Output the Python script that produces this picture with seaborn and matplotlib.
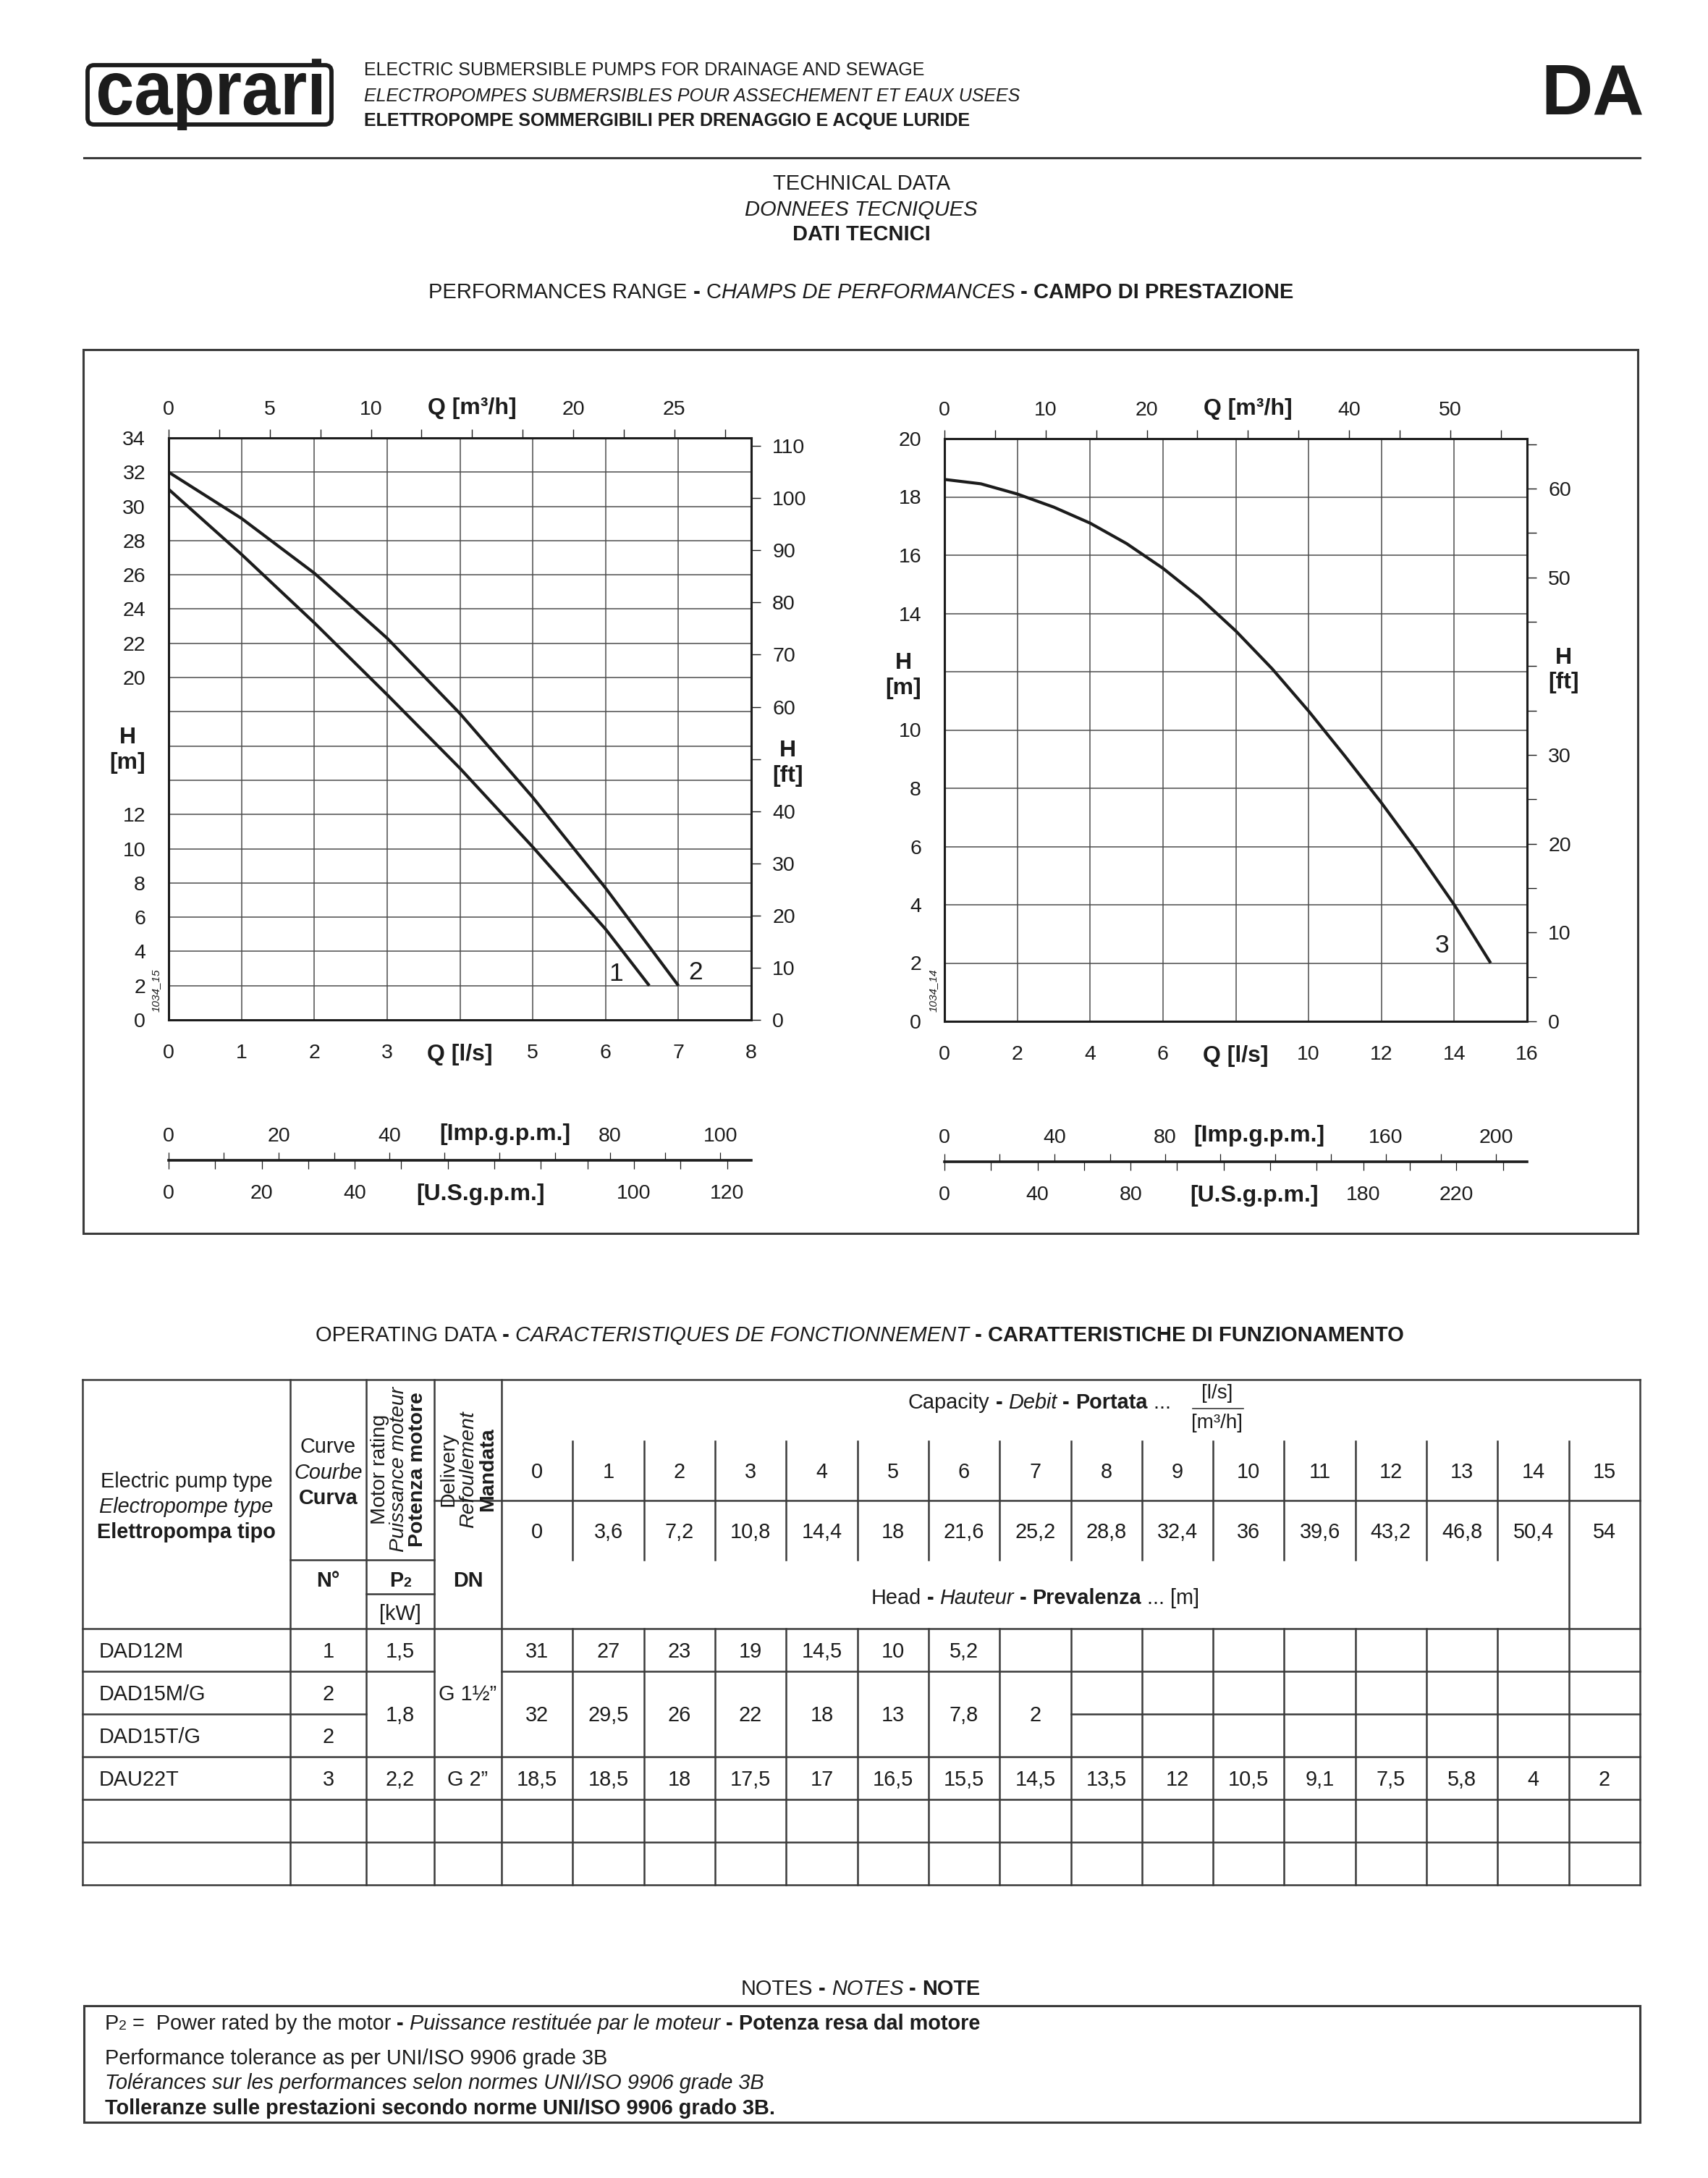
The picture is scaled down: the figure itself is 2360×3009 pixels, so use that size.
import numpy as np
import pandas as pd
import seaborn as sns
import matplotlib.pyplot as plt
from matplotlib.patches import Rectangle, FancyBboxPatch, PathPatch
from matplotlib.textpath import TextPath
from matplotlib.font_manager import FontProperties
from matplotlib.transforms import blended_transform_factory, Affine2D

# ---- curves (Q in l/s, H in m) ----
q_curve1 = [0, 1, 2, 3, 4, 5, 6, 6.6]
h_curve1 = [31, 27.2, 23.2, 19.0, 14.7, 10.1, 5.3, 2]
q_curve2 = [0, 1, 2, 3, 4, 5, 6, 7]
h_curve2 = [32, 29.3, 26.1, 22.3, 17.9, 13.0, 7.7, 2]
q_curve3 = [0, 1, 2, 3, 4, 5, 6, 7, 8, 9, 10, 11, 12, 13, 14, 15]
h_curve3 = [18.6, 18.45, 18.1, 17.65, 17.1, 16.4, 15.55, 14.55, 13.4, 12.1, 10.65, 9.1, 7.5, 5.8, 4.0, 2.0]

# ---- axis ticks / labels ----
left_q_ticks = [0, 1, 2, 3, 4, 5, 6, 7, 8]
left_q_labels = ['0', '1', '2', '3', 'Q [l/s]', '5', '6', '7', '8']
left_h_ticks = list(range(0, 35, 2))
left_h_labels = ['0', '2', '4', '6', '8', '10', '12', '', 'H\n[m]', '', '20', '22', '24', '26', '28', '30', '32', '34']
left_m3h_ticks = [0, 2.5, 5, 7.5, 10, 12.5, 15, 17.5, 20, 22.5, 25, 27.5]
left_m3h_labels = ['0', '', '5', '', '10', '', 'Q [m³/h]', '', '20', '', '25', '']
left_ft_ticks = list(range(0, 111, 10))
left_ft_labels = ['0', '10', '20', '30', '40', 'H\n[ft]', '60', '70', '80', '90', '100', '110']

right_q_ticks = list(range(0, 17, 2))
right_q_labels = ['0', '2', '4', '6', 'Q [l/s]', '10', '12', '14', '16']
right_h_ticks = list(range(0, 21, 2))
right_h_labels = ['0', '2', '4', '6', '8', '10', 'H\n[m]', '14', '16', '18', '20']
right_m3h_ticks = list(range(0, 56, 5))
right_m3h_labels = ['0', '', '10', '', '20', '', 'Q [m³/h]', '', '40', '', '50', '']
right_ft_ticks = list(range(0, 66, 5))
right_ft_labels = ['0', '', '10', '', '20', '', '30', '', 'H\n[ft]', '', '50', '', '60', '']

left_imp_ticks = list(range(0, 101, 10))
left_imp_labels = ['0', '', '20', '', '40', '', '', '', '80', '', '100']
left_us_ticks = list(range(0, 121, 10))
left_us_labels = ['0', '', '20', '', '40', '', '', '', '', '', '100', '', '120']
right_imp_ticks = list(range(0, 201, 20))
right_imp_labels = ['0', '', '40', '', '80', '', '', '', '160', '', '200']
right_us_ticks = list(range(0, 241, 20))
right_us_labels = ['0', '', '40', '', '80', '', '', '', '', '180', '', '220', '']

# ---- operating data table ----
capacity_ls = [str(i) for i in range(16)]
capacity_m3h = ['0', '3,6', '7,2', '10,8', '14,4', '18', '21,6', '25,2', '28,8', '32,4',
                '36', '39,6', '43,2', '46,8', '50,4', '54']
pump_types = ['DAD12M', 'DAD15M/G', 'DAD15T/G', 'DAU22T']
curve_no = ['1', '2', '2', '3']
head_dad12m = ['31', '27', '23', '19', '14,5', '10', '5,2']
head_dad15 = ['32', '29,5', '26', '22', '18', '13', '7,8', '2']
head_dau22t = ['18,5', '18,5', '18', '17,5', '17', '16,5', '15,5', '14,5', '13,5', '12',
               '10,5', '9,1', '7,5', '5,8', '4', '2']

M3H_PER_LS = 3.6
FT_PER_M = 3.2808
IMP_PER_LS = 13.2
US_PER_LS = 15.65

INK = '#1c1c1c'
LINE = '#3a3a3a'
GRID = '#4d4d4d'
PX = 100 / 72

sns.set_theme(style='white')
plt.rcParams['font.family'] = ['Liberation Sans', 'DejaVu Sans']
plt.rcParams['text.color'] = INK

W, H = 2360, 3009
fig = plt.figure(figsize=(W / 100, H / 100), dpi=100)
page = fig.add_axes([0, 0, 1, 1])
page.set_xlim(0, W)
page.set_ylim(H, 0)
page.axis('off')
renderer = fig.canvas.get_renderer()


def baseline(yc, size):
    return yc + 0.358 * size * PX


def text(x, yc, s, size, ha='center', style='normal', weight='normal'):
    return page.text(x, baseline(yc, size), s, fontsize=size, ha=ha, va='baseline',
                     fontstyle=style, fontweight=weight, color=INK)


def width_of(s, **kw):
    t1 = page.text(0, 0, s + '|', **kw)
    t2 = page.text(0, 0, '|', **kw)
    w = t1.get_window_extent(renderer).width - t2.get_window_extent(renderer).width
    t1.remove()
    t2.remove()
    return w


def rich(parts, x, yc, size, ha='center'):
    y = baseline(yc, size)
    specs = []
    for p in parts:
        kw = dict(fontsize=p[3] if len(p) > 3 else size, fontstyle=p[1], fontweight=p[2])
        specs.append((p[0], kw, width_of(p[0], **kw)))
    start = x - sum(s[2] for s in specs) / 2 if ha == 'center' else x
    for s, kw, w in specs:
        page.text(start, y, s, ha='left', va='baseline', color=INK, **kw)
        start += w


def hl(y, x0, x1, lw=1.8):
    page.plot([x0, x1], [y, y], color=LINE, lw=lw, solid_capstyle='projecting')


def vl(x, y0, y1, lw=1.8):
    page.plot([x, x], [y0, y1], color=LINE, lw=lw, solid_capstyle='projecting')


# ---- page header ----
page.add_patch(FancyBboxPatch((121, 90), 337, 82, boxstyle='round,pad=0,rounding_size=9',
                              fill=False, ec=INK, lw=4.2))
logo = TextPath((0, 0), 'caprari', size=100, prop=FontProperties(family='Liberation Sans', weight='bold'))
ext = logo.get_extents()
sx = 308 / ext.width
page.add_patch(PathPatch(logo, transform=Affine2D().translate(-ext.x0, 0).scale(sx, -1.06)
                         .translate(136, 158) + page.transData, fc=INK, ec='none'))
text(503, 95, 'ELECTRIC SUBMERSIBLE PUMPS FOR DRAINAGE AND SEWAGE', 18, ha='left')
text(503, 131, 'ELECTROPOMPES SUBMERSIBLES POUR ASSECHEMENT ET EAUX USEES', 18, ha='left', style='italic')
text(503, 165, 'ELETTROPOMPE SOMMERGIBILI PER DRENAGGIO E ACQUE LURIDE', 18, ha='left', weight='bold')
page.text(2272, 157, 'DA', fontsize=71, fontweight='bold', ha='right', va='baseline', color=INK)
hl(218, 116, 2266, lw=2.2)

text(1190, 252, 'TECHNICAL DATA', 21)
text(1190, 288, 'DONNEES TECNIQUES', 21, style='italic')
text(1190, 322, 'DATI TECNICI', 21, weight='bold')
rich([('PERFORMANCES RANGE', 'normal', 'normal'), (' - ', 'normal', 'bold'),
      ('C', 'normal', 'normal'), ('HAMPS DE PERFORMANCES', 'italic', 'normal'),
      (' - ', 'normal', 'bold'), ('CAMPO DI PRESTAZIONE', 'normal', 'bold')], 1190, 402, 21)

page.add_patch(Rectangle((115, 483), 2148, 1221, fill=False, ec=LINE, lw=2.2))


# ---- performance charts ----
def perf_chart(rect, curves, tags, q_max, h_max, q_ticks, q_labels, h_ticks, h_labels,
               m3h_ticks, m3h_labels, ft_ticks, ft_labels):
    ax = fig.add_axes(rect)
    for q, h in curves:
        df = pd.DataFrame({'Q': q, 'H': h})
        sns.lineplot(data=df, x='Q', y='H', ax=ax, color=INK, linewidth=3.0,
                     estimator=None, sort=False, solid_capstyle='butt')
    for name, qx, hy in tags:
        ax.text(qx, hy, name, fontsize=25.5, ha='center', va='center', color=INK)
    ax.set_xlim(0, q_max)
    ax.set_ylim(0, h_max)
    ax.set_xlabel('')
    ax.set_ylabel('')
    ax.set_xticks(q_ticks, q_labels)
    ax.set_yticks(h_ticks, h_labels)
    ax.grid(True, color=GRID, linewidth=1.1)
    ax.tick_params(axis='both', length=0, labelsize=20.5, colors=INK)
    ax.tick_params(axis='x', pad=24)
    ax.tick_params(axis='y', pad=23)
    for s in ax.spines.values():
        s.set_visible(True)
        s.set_linewidth(2.2)
        s.set_color(INK)
    top = ax.twiny()
    top.set_xlim(0, q_max * M3H_PER_LS)
    top.set_xticks(m3h_ticks, m3h_labels)
    top.tick_params(axis='x', direction='out', length=8.5, width=1.0, pad=10,
                    labelsize=20.5, colors=INK)
    right = ax.twinx()
    right.set_ylim(0, h_max * FT_PER_M)
    right.set_yticks(ft_ticks, ft_labels)
    right.tick_params(axis='y', direction='out', length=9, width=1.0, pad=12,
                      labelsize=20.5, colors=INK)
    for a in (top, right):
        a.grid(False)
        for s in a.spines.values():
            s.set_visible(False)
    for lbl in (ax.get_xticklabels() + ax.get_yticklabels()
                + top.get_xticklabels() + right.get_yticklabels()):
        if lbl.get_text() and lbl.get_text()[0] in 'QH':
            lbl.set_fontweight('bold')
            lbl.set_fontsize(23)
            lbl.set_multialignment('center')
    return ax


perf_chart([233 / W, 1 - 1409 / H, 805 / W, 804 / H],
           [(q_curve1, h_curve1), (q_curve2, h_curve2)],
           [('1', 6.14, 2.7), ('2', 7.24, 2.75)], 8, 34,
           left_q_ticks, left_q_labels, left_h_ticks, left_h_labels,
           left_m3h_ticks, left_m3h_labels, left_ft_ticks, left_ft_labels)
perf_chart([1305 / W, 1 - 1411 / H, 805 / W, 805 / H],
           [(q_curve3, h_curve3)], [('3', 13.67, 2.6)], 16, 20,
           right_q_ticks, right_q_labels, right_h_ticks, right_h_labels,
           right_m3h_ticks, right_m3h_labels, right_ft_ticks, right_ft_labels)

page.text(216, 1368, '1034_15', rotation=90, fontsize=11, fontstyle='italic',
          ha='center', va='center', color=INK)
page.text(1290, 1368, '1034_14', rotation=90, fontsize=11, fontstyle='italic',
          ha='center', va='center', color=INK)


def gpm_scale(x0, width, y, q_max, imp_ticks, imp_labels, us_ticks, us_labels, imp_name_at, us_name_at):
    a = fig.add_axes([x0 / W, 1 - y / H, width / W, 0.5 / H])
    a.set_xlim(0, q_max * IMP_PER_LS)
    a.set_yticks([])
    a.patch.set_visible(False)
    b = a.twiny()
    b.set_xlim(0, q_max * US_PER_LS)
    # imperial gallons above the line, US gallons below
    a.xaxis.tick_top()
    a.set_xticks(imp_ticks, imp_labels)
    a.tick_params(axis='x', direction='out', length=8, width=0.9, pad=6,
                  labelsize=20.5, colors=INK)
    b.xaxis.tick_bottom()
    b.set_xticks(us_ticks, us_labels)
    b.tick_params(axis='x', direction='out', length=8.5, width=0.9, pad=15,
                  labelsize=20.5, colors=INK)
    b.set_yticks([])
    for k in ('left', 'right', 'top'):
        a.spines[k].set_visible(False)
    a.spines['bottom'].set_linewidth(2.6)
    a.spines['bottom'].set_color(INK)
    for s in b.spines.values():
        s.set_visible(False)
    ta = blended_transform_factory(a.transData, page.transData)
    tb = blended_transform_factory(b.transData, page.transData)
    page.text(imp_name_at, y - 36, '[Imp.g.p.m.]', transform=ta, fontsize=23, fontweight='bold',
              ha='center', va='center', color=INK)
    page.text(us_name_at, y + 47, '[U.S.g.p.m.]', transform=tb, fontsize=23, fontweight='bold',
              ha='center', va='center', color=INK)


gpm_scale(233, 805, 1603, 8, left_imp_ticks, left_imp_labels, left_us_ticks, left_us_labels, 61, 67)
gpm_scale(1305, 805, 1605, 16, right_imp_ticks, right_imp_labels, right_us_ticks, right_us_labels, 114, 133)

# ---- operating data table ----
rich([('OPERATING DATA', 'normal', 'normal'), (' - ', 'normal', 'bold'),
      ('CARACTERISTIQUES DE FONCTIONNEMENT', 'italic', 'normal'), (' - ', 'normal', 'bold'),
      ('CARATTERISTICHE DI FUNZIONAMENTO', 'normal', 'bold')], 1188, 1843, 21)

TX0, TX1 = 114, 2266
C_CURVE, C_P2, C_DN, C_CAP = 401, 506, 600, 693
CW = (TX1 - C_CAP) / 16
T_TOP, T_CAP, T_MID, T_HB, T_KW, T_HDR = 1906, 1991, 2073, 2155, 2202, 2250
RH = 59
rows = [T_HDR + i * RH for i in range(7)]
cap_x = [C_CAP + i * CW for i in range(17)]
cap_c = [C_CAP + (i + 0.5) * CW for i in range(16)]
FS = 20.8

hl(T_TOP, TX0, TX1)
hl(T_MID, C_DN, TX1)
hl(T_HB, C_CURVE, C_DN)
hl(T_KW, C_P2, C_DN)
hl(T_HDR, TX0, TX1)
hl(rows[1], TX0, C_DN)
hl(rows[1], C_CAP, TX1)
hl(rows[2], TX0, C_P2)
hl(rows[2], cap_x[8], TX1)
for y in rows[3:]:
    hl(y, TX0, TX1)
for x in (TX0, C_CURVE, C_P2, C_DN, C_CAP, TX1):
    vl(x, T_TOP, rows[-1])
for x in cap_x[1:15]:
    vl(x, T_CAP, T_HB)
    vl(x, T_HDR, rows[-1])
vl(cap_x[15], T_CAP, rows[-1])

text(257.5, 2045, 'Electric pump type', FS)
text(257.5, 2080, 'Electropompe type', FS, style='italic')
text(257.5, 2115, 'Elettropompa tipo', FS, weight='bold')
text(453.5, 1997, 'Curve', FS)
text(453.5, 2033, 'Courbe', FS, style='italic')
text(453.5, 2068, 'Curva', FS, weight='bold')
text(453.5, 2182, 'N°', FS, weight='bold')
for x, s, st, wt in [(525, 'Motor rating', 'normal', 'normal'),
                     (551.5, 'Puissance moteur', 'italic', 'normal'),
                     (577, 'Potenza motore', 'normal', 'bold'),
                     (620, 'Delivery', 'normal', 'normal'),
                     (647, 'Refoulement', 'italic', 'normal'),
                     (674, 'Mandata', 'normal', 'bold')]:
    page.text(x, 2030, s, rotation=90, fontsize=20.5, fontstyle=st, fontweight=wt,
              ha='center', va='center', color=INK)
rich([('P', 'normal', 'bold'), ('2', 'normal', 'bold', 14)], 553, 2182, FS)
text(553, 2228, '[kW]', FS)
text(646.5, 2182, 'DN', FS, weight='bold')

rich([('Capacity', 'normal', 'normal'), (' - ', 'normal', 'bold'), ('Debit', 'italic', 'normal'),
      (' - ', 'normal', 'bold'), ('Portata', 'normal', 'bold'), (' ...', 'normal', 'normal')],
     1255, 1936, FS, ha='left')
text(1682, 1922, '[l/s]', 20)
hl(1946, 1648, 1718, lw=1.2)
text(1682, 1963, '[m³/h]', 20)
for xc, a, b in zip(cap_c, capacity_ls, capacity_m3h):
    text(xc, 2032, a, FS)
    text(xc, 2115, b, FS)
rich([('Head', 'normal', 'normal'), (' - ', 'normal', 'bold'), ('Hauteur', 'italic', 'normal'),
      (' - ', 'normal', 'bold'), ('Prevalenza', 'normal', 'bold'), (' ... [m]', 'normal', 'normal')],
     (cap_x[0] + cap_x[15]) / 2, 2206, FS)

row_c = [(rows[i] + rows[i + 1]) / 2 for i in range(6)]
for i, (name, cn) in enumerate(zip(pump_types, curve_no)):
    text(137, row_c[i], name, FS, ha='left')
    text(453.5, row_c[i], cn, FS)
text(553, row_c[0], '1,5', FS)
text(553, (rows[1] + rows[3]) / 2, '1,8', FS)
text(553, row_c[3], '2,2', FS)
text(646.5, (rows[0] + rows[3]) / 2, 'G 1½”', FS)
text(646.5, row_c[3], 'G 2”', FS)
for xc, v in zip(cap_c, head_dad12m):
    text(xc, row_c[0], v, FS)
for xc, v in zip(cap_c, head_dad15):
    text(xc, (rows[1] + rows[3]) / 2, v, FS)
for xc, v in zip(cap_c, head_dau22t):
    text(xc, row_c[3], v, FS)

# ---- notes ----
rich([('NOTES', 'normal', 'normal'), (' - ', 'normal', 'bold'), ('NOTES', 'italic', 'normal'),
      (' - ', 'normal', 'bold'), ('NOTE', 'normal', 'bold')], 1189, 2746, 20.8)
page.add_patch(Rectangle((116, 2771), 2150, 161, fill=False, ec=LINE, lw=2.2))
rich([('P', 'normal', 'normal'), ('2', 'normal', 'normal', 14),
      (' =  Power rated by the motor', 'normal', 'normal'), (' - ', 'normal', 'bold'),
      ('Puissance restituée par le moteur', 'italic', 'normal'), (' - ', 'normal', 'bold'),
      ('Potenza resa dal motore', 'normal', 'bold')], 145, 2794, 20.8, ha='left')
text(145, 2842, 'Performance tolerance as per UNI/ISO 9906 grade 3B', 20.8, ha='left')
text(145, 2876, 'Tolérances sur les performances selon normes UNI/ISO 9906 grade 3B', 20.8,
     ha='left', style='italic')
text(145, 2911, 'Tolleranze sulle prestazioni secondo norme UNI/ISO 9906 grado 3B.', 20.8,
     ha='left', weight='bold')

fig.savefig('out.png', dpi=100, facecolor='white')
